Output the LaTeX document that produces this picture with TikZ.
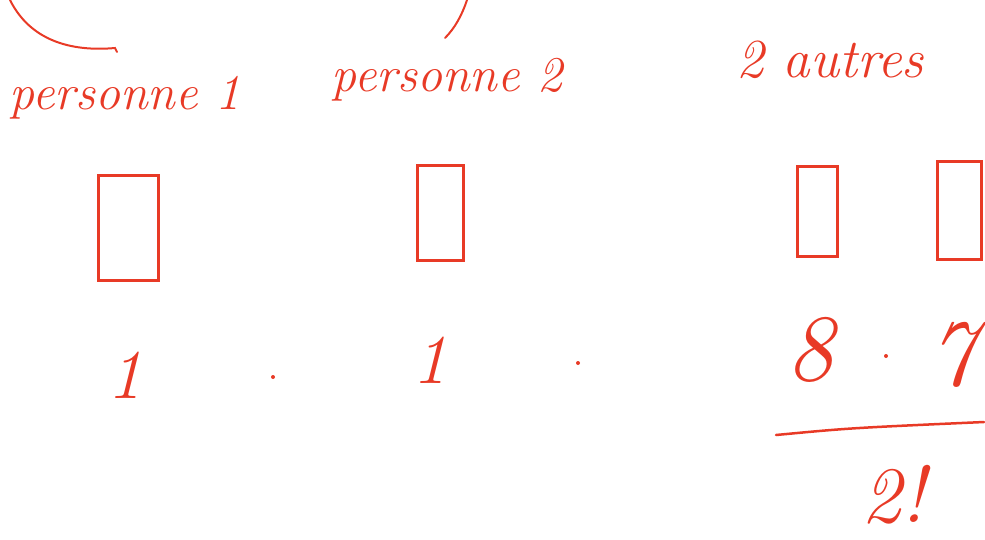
\documentclass[tikz,border=0pt]{standalone}
\usepackage{tikz}
\definecolor{ink}{RGB}{232,58,38}
\tikzset{
  hand/.style={text=ink,font=\fontsize{50}{50}\selectfont\itshape,inner sep=0pt},
  num/.style={text=ink,font=\fontsize{#1}{#1}\selectfont\itshape,inner sep=0pt},
  num/.default=70,
  slot/.style={draw=ink,line width=3pt,minimum width=#1,inner sep=0pt},
  mul/.style={circle,fill=ink,inner sep=0pt,minimum size=4pt},
}
\begin{document}
\begin{tikzpicture}[x=1pt,y=-1pt,line cap=round]
\useasboundingbox (0,0) rectangle (985,539);
% remains of the curves above
\draw[ink,line width=2pt] (10,0) .. controls (30,40) and (70,52) .. (115,48) -- (117,52);
\draw[ink,line width=2pt] (467,0) .. controls (462,15) and (455,28) .. (445,38);
% labels
\node[hand] (p1) at (125,98) {personne 1};
\node[hand] (p2) at (447,80) {personne 2};
\node[hand,font=\fontsize{55}{55}\selectfont\itshape] (au) at (830,60) {2 autres};
% slots
\node[slot=60pt,minimum height=105pt] (b1) at (128,228) {};
\node[slot=46pt,minimum height=95pt] (b2) at (440,213) {};
\node[slot=40pt,minimum height=90pt] (b3) at (817,211) {};
\node[slot=44pt,minimum height=98pt] (b4) at (959,210) {};
% counts
\node[num] (n1) at (125,375) {1};
\node[mul] (d1) at (273,377) {};
\node[num] (n2) at (430,360) {1};
\node[mul] (d2) at (578,363) {};
\node[num=95] (n3) at (810,350) {8};
\node[mul] (d3) at (886,356) {};
\node[num=95] (n4) at (952,355) {7};
\coordinate (fl) at (776,435);
\coordinate (fr) at (984,422);
\draw[ink,line width=2.5pt] (fl) .. controls (850,428) .. (fr);
\node[num=80] (f) at (893,495) {2!};
\end{tikzpicture}
\end{document}
